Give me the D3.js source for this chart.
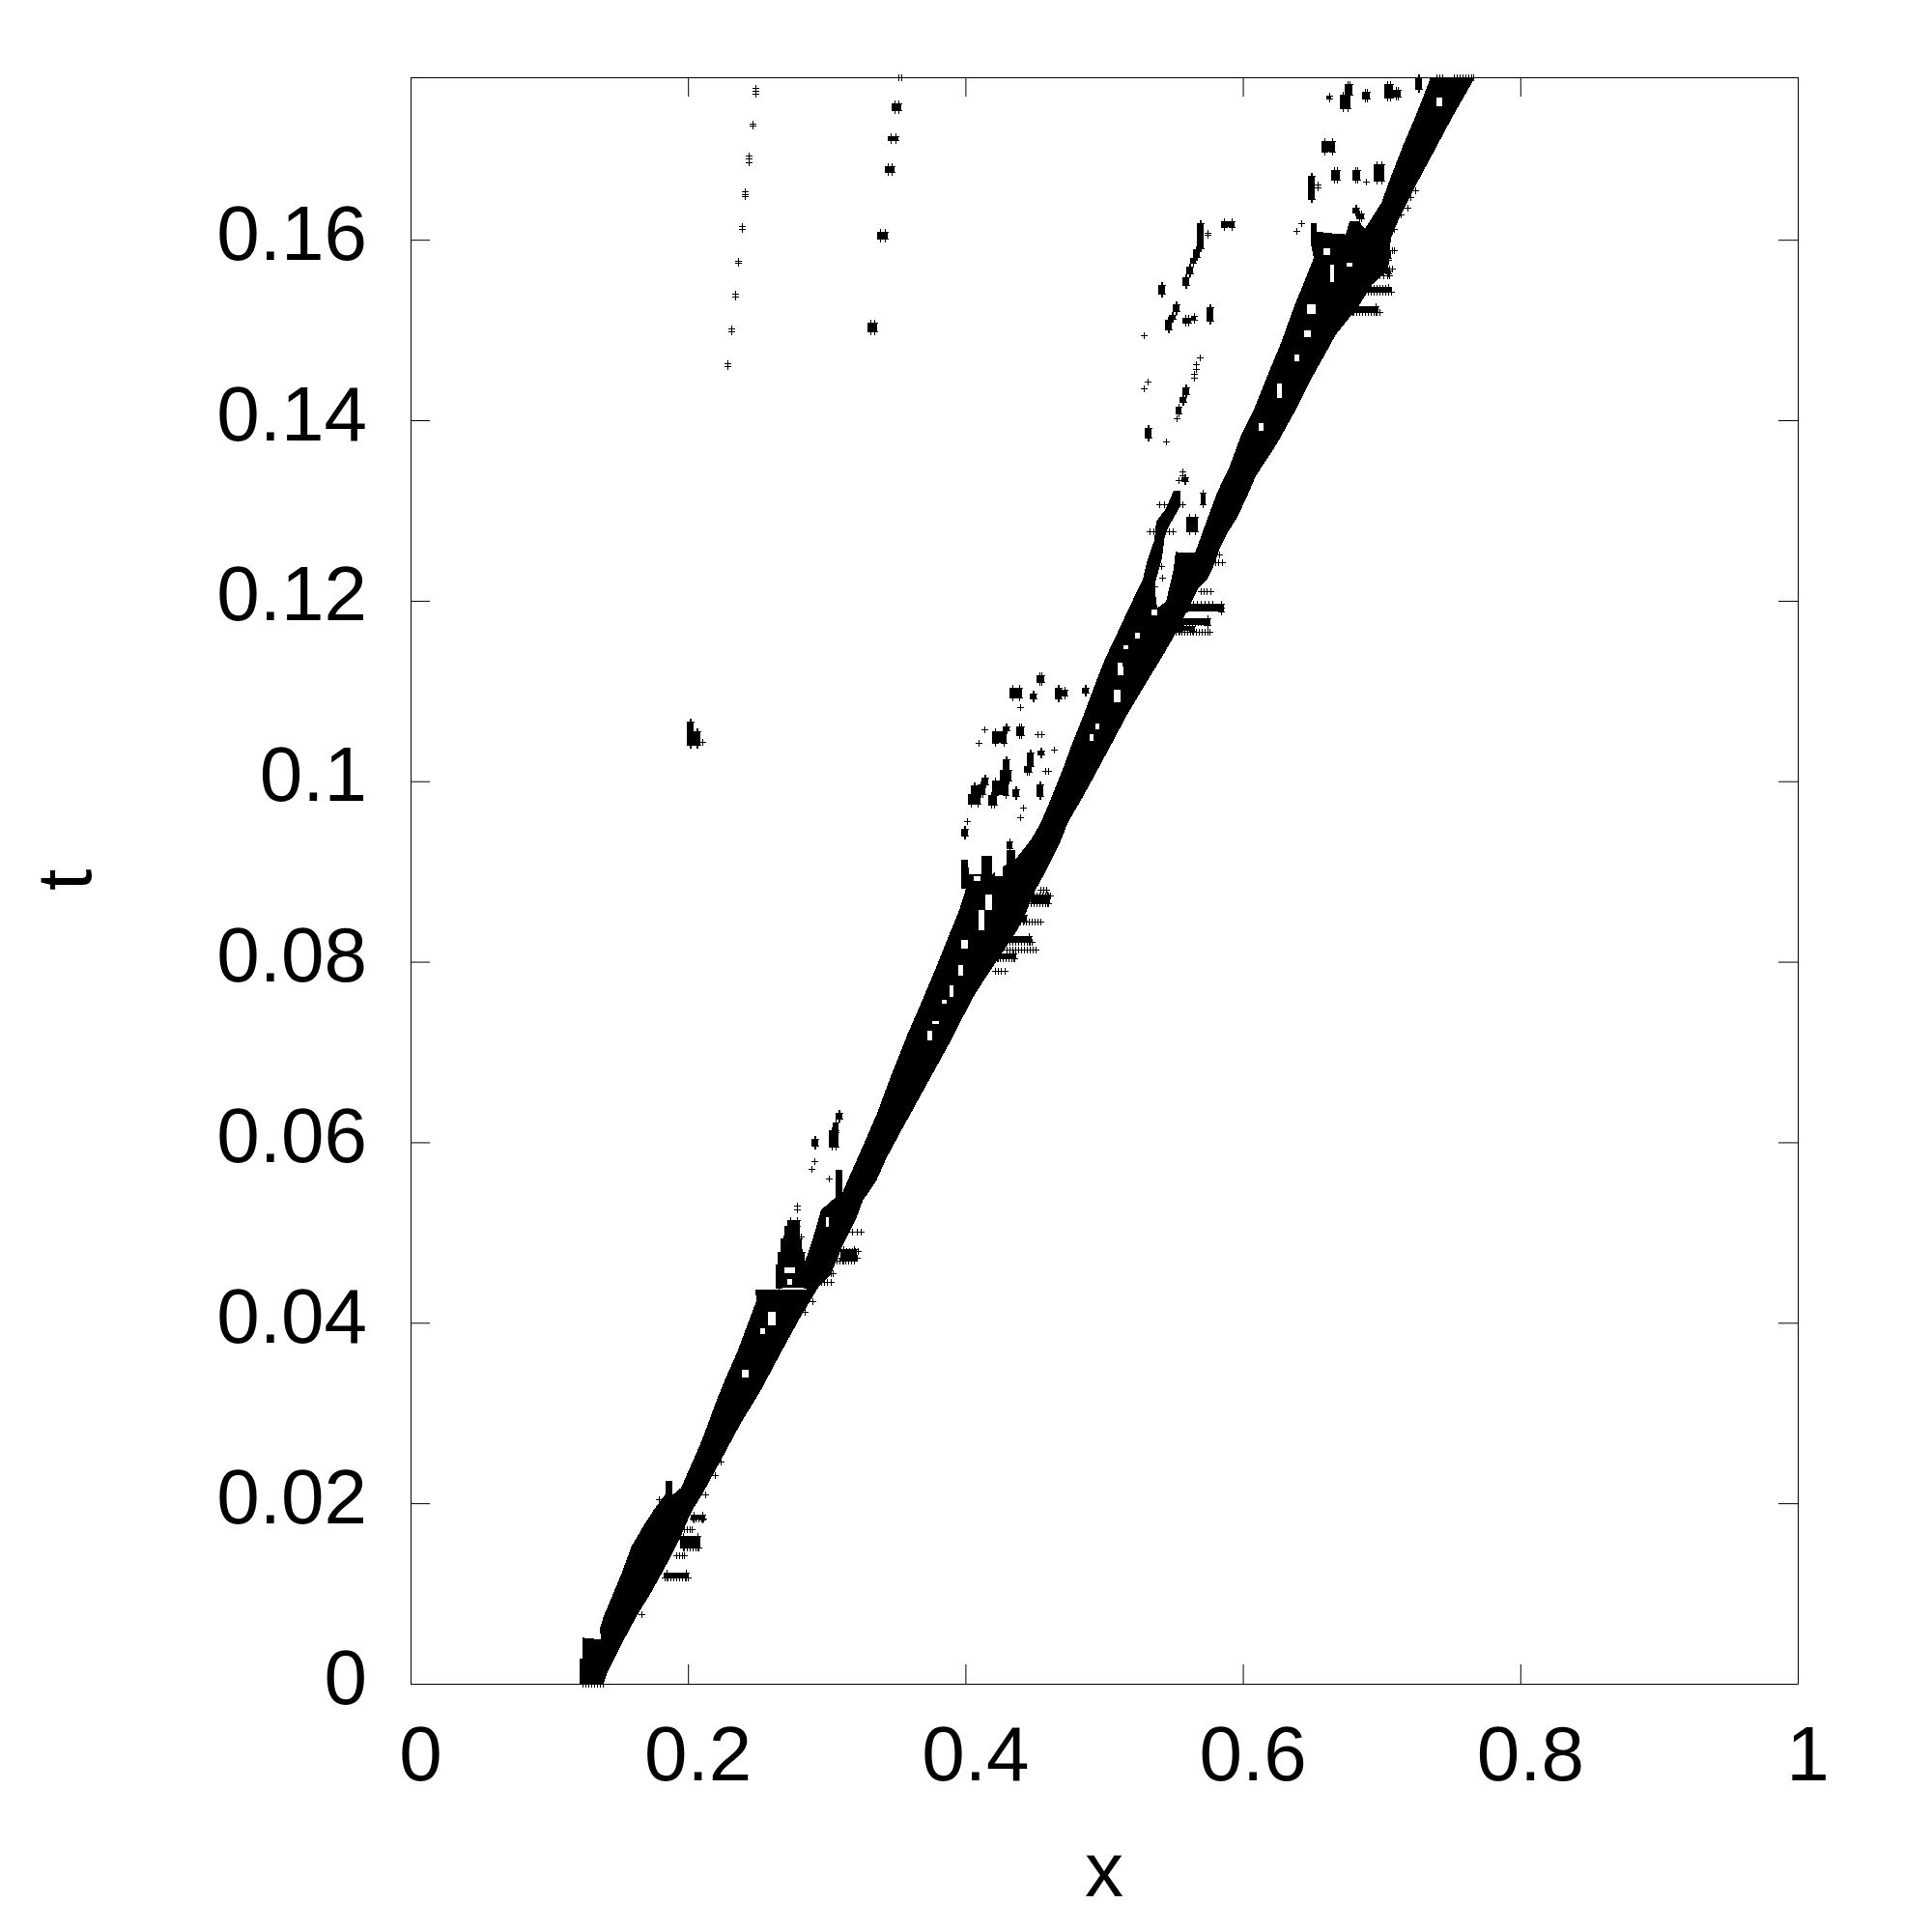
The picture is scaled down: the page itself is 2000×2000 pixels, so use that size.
<!DOCTYPE html>
<html><head><meta charset="utf-8">
<script src="https://cdn.jsdelivr.net/npm/d3@7"></script>
<style>html,body{margin:0;background:#fff}svg{display:block}</style>
</head><body><svg id="c" width="2000" height="2000"></svg>
<script>
const xTicks=[0,0.2,0.4,0.6,0.8,1];
const tTicks=[0,0.02,0.04,0.06,0.08,0.1,0.12,0.14,0.16];
const xLabel="x", tLabel="t";

// dense band outline, as read: [x,t]
const bandLeftEdge=[[.1219,0],[.1219,.0028],[.1240,.0028],[.1240,.0051],[.1372,.0049],[.1365,.0062],[.1393,.0075],[.1469,.0103],[.1518,.0121],[.1595,.0153],[.1692,.0178],[.1755,.0193],[.1838,.0210],[.1838,.0225],[.1887,.0225],[.1887,.0209],[.1950,.0217],[.2033,.0246],[.2103,.0271],[.2214,.0317],[.2284,.0343],[.2354,.0367],[.2451,.0407],[.2493,.0424],[.2486,.0437],[.2855,.0437],[.2841,.0467],[.2890,.0488],[.2960,.0525],[.3064,.0539],[.3064,.0569],[.3113,.0569],[.3113,.0544],[.3189,.0571],[.3259,.0595],[.3363,.0632],[.3447,.0667],[.3586,.0721],[.3677,.0753],[.3795,.0796],[.3886,.0831],[.3955,.0857],[.4004,.0881],[.3969,.0881],[.3969,.0913],[.4018,.0913],[.4025,.0897],[.4116,.0897],[.4116,.0917],[.4192,.0917],[.4192,.0897],[.4297,.0908],[.4297,.0924],[.4359,.0924],[.4359,.0913],[.4471,.0935],[.4540,.0953],[.4610,.0978],[.4701,.1013],[.4770,.1042],[.4861,.1077],[.4958,.1117],[.5014,.1138],[.5070,.1156],[.5167,.1188],[.5279,.1224],[.5306,.1242],[.5362,.1267],[.5376,.1288],[.5446,.1302],[.5501,.1322],[.5550,.1322],[.5550,.1305],[.5487,.1288],[.5439,.1274],[.5418,.1248],[.5362,.1216],[.5383,.1192],[.5446,.1199],[.5501,.1235],[.5515,.1254],[.5655,.1253],[.5696,.1270],[.5745,.1291],[.5815,.1320],[.5905,.1349],[.5989,.1384],[.6072,.1409],[.6184,.1452],[.6281,.1488],[.6372,.1527],[.6442,.1553],[.6511,.1580],[.6490,.1595],[.6490,.1618],[.6532,.1618],[.6532,.1609],[.6650,.1607],[.6741,.1606],[.6769,.1620],[.6838,.1620],[.6880,.1612],[.6999,.1641],[.7068,.1670],[.7159,.1706],[.7256,.1741],[.7347,.1777],[.7347,.1780]];
const bandRightEdge=[[.7674,.1780],[.7507,.1735],[.7368,.1695],[.7228,.1655],[.7117,.1620],[.7068,.1602],[.7047,.1566],[.6929,.1550],[.6838,.1527],[.6671,.1495],[.6581,.1470],[.6490,.1445],[.6372,.1409],[.6246,.1374],[.6093,.1338],[.6024,.1313],[.5954,.1291],[.5884,.1274],[.5836,.1259],[.5780,.1235],[.5745,.1224],[.5675,.1213],[.5571,.1181],[.5487,.1156],[.5418,.1138],[.5292,.1106],[.5167,.1074],[.5028,.1034],[.4930,.1006],[.4840,.0981],[.4735,.0953],[.4680,.0931],[.4610,.0910],[.4561,.0895],[.4492,.0876],[.4436,.0854],[.4366,.0833],[.4248,.0806],[.4123,.0777],[.4053,.0760],[.3886,.0710],[.3538,.0613],[.3426,.0581],[.3357,.0557],[.3259,.0535],[.3217,.0517],[.3113,.0485],[.3029,.0453],[.2939,.0439],[.2799,.0403],[.2681,.0370],[.2521,.0324],[.2382,.0289],[.2242,.0249],[.2103,.0210],[.2026,.0191],[.1950,.0164],[.1845,.0132],[.1741,.0103],[.1623,.0073],[.1518,.0043],[.1414,.0011],[.1393,0]];

// empty pockets inside the band and clumps: [x0,x1,t0,t1]
const gapBoxes=[[.7396,.7437,.1748,.1757],[.6630,.6657,.1553,.1572],[.6748,.6790,.1570,.1575],[.6581,.6630,.1583,.1591],[.6462,.6525,.1518,.1529],[.6442,.6490,.1492,.1500],[.6372,.6407,.1465,.1473],[.6246,.6281,.1425,.1441],[.6114,.6149,.1388,.1397],[.5341,.5383,.1184,.1190],[.5223,.5258,.1158,.1165],[.5139,.5174,.1146,.1151],[.5097,.5132,.1124,.1131],[.4896,.4923,.1045,.1052],[.4937,.4965,.1057,.1064],[.5070,.5118,.1088,.1101],[.5097,.5139,.1117,.1127],[.3886,.3914,.0761,.0774],[.3830,.3865,.0753,.0758],[.3726,.3760,.0713,.0724],[.3760,.3809,.0731,.0734],[.4143,.4192,.0857,.0874],[.4095,.4136,.0835,.0857],[.3969,.4018,.0815,.0824],[.3948,.3983,.0785,.0796],[.4060,.4110,.0889,.0895],[.4213,.4269,.0895,.0906],[.2389,.2437,.0339,.0348],[.2521,.2556,.0387,.0394],[.2577,.2632,.0397,.0412],[.2994,.3015,.0506,.0517],[.2695,.2772,.0455,.0461],[.2716,.2751,.0442,.0449]];

// tight clumps of points: [x0,x1,t0,t1]
const clusterBoxes=[[.7242,.7291,.1767,.1780],[.6734,.6790,.1761,.1772],[.6699,.6776,.1746,.1761],[.6859,.6915,.1756,.1764],[.7019,.7082,.1757,.1772],[.7082,.7138,.1759,.1766],[.6602,.6637,.1756,.1760],[.6567,.6664,.1698,.1709],[.6636,.6699,.1667,.1677],[.6790,.6845,.1667,.1677],[.6943,.7019,.1666,.1684],[.6469,.6518,.1645,.1671],[.6790,.6838,.1630,.1636],[.6818,.6873,.1624,.1629],[.5669,.5717,.1591,.1618],[.5843,.5940,.1614,.1620],[.5641,.5689,.1581,.1589],[.5620,.5662,.1574,.1580],[.5592,.5641,.1563,.1570],[.5564,.5613,.1550,.1558],[.5390,.5439,.1540,.1550],[.5494,.5543,.1521,.1529],[.5467,.5515,.1512,.1517],[.5439,.5487,.1501,.1511],[.5564,.5627,.1508,.1513],[.5738,.5787,.1510,.1525],[.5627,.5662,.1511,.1516],[.5564,.5613,.1429,.1436],[.5543,.5592,.1420,.1426],[.5515,.5557,.1408,.1415],[.5292,.5341,.1381,.1391],
[.5592,.5675,.1277,.1293],[.5696,.5731,.1307,.1320],[.5557,.5606,.1333,.1337],
[.4318,.4408,.1093,.1104],[.4513,.4568,.1110,.1117],[.4464,.4513,.1092,.1097],[.4645,.4694,.1092,.1104],[.4694,.4735,.1095,.1101],[.4840,.4889,.1098,.1104],[.4269,.4318,.1056,.1061],[.4192,.4297,.1042,.1055],[.4366,.4422,.1051,.1061],[.4520,.4568,.1030,.1034],[.4443,.4492,.1017,.1032],[.4422,.4478,.1010,.1017],[.4269,.4318,.1013,.1024],[.4248,.4331,.1001,.1013],[.4192,.4311,.0985,.1001],[.4164,.4227,.0974,.0985],[.4338,.4387,.0984,.0991],[.4513,.4561,.0984,.0997],[.4116,.4164,.0996,.1004],[.4088,.4143,.0986,.0996],[.4039,.4088,.0985,.0995],[.4018,.4109,.0975,.0986],[.3969,.4018,.0940,.0947],[.4297,.4338,.0926,.0933],
[.3064,.3113,.0626,.0633],[.3043,.3085,.0611,.0622],[.3015,.3085,.0595,.0613],[.2890,.2939,.0596,.0604],
[.2716,.2806,.0507,.0514],[.2695,.2806,.0493,.0507],[.2667,.2820,.0478,.0493],[.2646,.2841,.0464,.0478],[.2632,.2876,.0439,.0464],
[.1992,.2040,.1040,.1066],[.2040,.2089,.1040,.1055],
[.3468,.3538,.1744,.1751],[.3440,.3517,.1710,.1715],[.3419,.3489,.1675,.1681],[.3363,.3440,.1601,.1609],[.3294,.3363,.1499,.1508],
[.1943,.2089,.0151,.0164],[.1825,.2006,.0118,.0123],[.2019,.2124,.0182,.0187],[.3099,.3217,.0469,.0482],
[.4269,.4478,.0822,.0828],[.4471,.4610,.0865,.0874],[.4366,.4443,.0846,.0852],[.4213,.4366,.0804,.0809],
[.5522,.5766,.1173,.1181],[.5557,.5864,.1188,.1197],[.5522,.5655,.1167,.1172],
[.6838,.7068,.1542,.1548],[.6769,.6978,.1520,.1526],[.6859,.7068,.1580,.1588],[.6908,.7068,.1563,.1566]];

// rows of points sticking out of the band
const rowT=[0,.0118,.0151,.0161,.0183,.0171,.0142,.0445,.0455,.0469,.0501,.0472,.0480,.0814,.0822,.0804,.0790,.0845,.0865,.0873,.0880,.1166,.1176,.1192,.1197,.1211,.1243,.1251,.1520,.1542,.1547,.1561,.1568,.1578,.1588,.1780,.1780,.1277,.1307];
const rowX=[[.1240,.1260,.1281,.1302,.1323,.1344,.1365,.1385],[.1831,.1852,.1873,.1894,.1915,.1936,.1957,.1978,.1999],[.1971,.1992,.2013,.2034,.2055,.2075],[.1950,.1971,.1992,.2013,.2034,.2054],[.2034,.2055,.2075,.2096,.2110],[.1971,.1992,.2013,.2027],[.1915,.1936,.1957,.1971],[.2960,.2981,.3001,.3029],[.2981,.3001,.3029,.3043],[.3050,.3071,.3092,.3113,.3134,.3155,.3176,.3197],[.3148,.3183,.3217,.3245],[.3099,.3120,.3141,.3162,.3183,.3204,.3217],[.3120,.3141,.3162,.3183,.3204,.3224],[.4297,.4318,.4339,.4360,.4381,.4401,.4422,.4443,.4464,.4485,.4506],[.4297,.4318,.4339,.4360,.4381,.4401,.4422,.4443,.4464,.4478],[.4227,.4248,.4269,.4290,.4311,.4332,.4353],[.4213,.4234,.4255,.4283],[.4373,.4394,.4415,.4436,.4457,.4478,.4499,.4520,.4540],[.4471,.4492,.4513,.4534,.4555,.4576,.4596],[.4443,.4471,.4492,.4513,.4534,.4555,.4576,.4596,.4610],[.4540,.4561,.4582],[.5515,.5536,.5557,.5578,.5599,.5620,.5641,.5662,.5683,.5704,.5725,.5746,.5759],[.5571,.5592,.5613,.5634,.5655,.5676,.5697,.5718,.5739],[.5571,.5599,.5627,.5655,.5683,.5711,.5739,.5767,.5795,.5822,.5843],[.5641,.5669,.5697,.5725,.5753,.5780],[.5696,.5717,.5738,.5766],[.5780,.5801,.5822,.5850],[.5801,.5829],[.6755,.6776,.6797,.6818,.6839,.6860,.6881,.6902,.6923,.6944,.6965,.6985],[.6838,.6859,.6880,.6901,.6922,.6943,.6964,.6985,.7006,.7027,.7048,.7068],[.6859,.6880,.6901,.6922,.6943,.6964,.6985,.7006,.7027,.7048],[.6929,.6957,.6985,.7013,.7041,.7055],[.6929,.6950,.6971,.6992,.7013,.7034,.7055,.7075],[.6964,.6992,.7020,.7048],[.6964,.6992,.7020,.7048,.7075,.7089],[.7521,.7542,.7563,.7584,.7605,.7626,.7647,.7660],[.7396,.7417,.7438],[.5327,.5355,.5383,.5411,.5439,.5467,.5494],[.5397,.5432,.5467,.5501,.5536,.5564]];

// isolated points: [x,t]
const isolatedPoints=[[.1664,.0077],[.2124,.0210],[.2194,.0231],[.2235,.0246],[.2841,.0412],[.2897,.0424],[.1790,.0204],[.1685,.0166],[.1623,.0148],[.1462,.0091],[.1441,.0082],[.2911,.0579],[.2890,.0571],[.3015,.0560],[.2786,.0530],[.2786,.0526],[.2813,.0496],
[.5362,.1216],[.5418,.1226],[.5411,.1238],[.5494,.1311],[.5536,.1334],[.5564,.1343],[.5564,.1339],
[.7242,.1655],[.7207,.1647],[.7187,.1636],[.7138,.1628],[.7089,.1612],[.6421,.1618],[.6386,.1610],[.5285,.1494],[.5689,.1470],[.5661,.1462],[.5661,.1457],[.5648,.1451],[.5648,.1447],[.5313,.1443],[.5285,.1435],[.5522,.1402],[.5446,.1377],[.6887,.1664],[.6539,.1661],[.6539,.1658],[.5745,.1608],[.5745,.1605],
[.4394,.1082],[.4136,.1058],[.4095,.1043],[.4520,.1052],[.4547,.1052],[.4638,.1035],[.4575,.1011],[.4596,.1011],[.4415,.0971],[.4394,.0960],[.4011,.0956],[.2103,.1044],
[.2486,.1768],[.2486,.1765],[.2486,.1762],[.2465,.1729],[.2465,.1727],[.2437,.1693],[.2437,.1690],[.2437,.1686],[.2409,.1654],[.2409,.1651],[.2409,.1648],[.2389,.1615],[.2389,.1612],[.2361,.1577],[.2361,.1574],[.2340,.1540],[.2340,.1537],[.2312,.1502],[.2312,.1499],[.2284,.1463],[.2284,.1460],[.3517,.1780],[.3538,.1780]];

const svg=d3.select("#c");
const x=d3.scaleLinear().domain([0,1]).range([425,1861]);
const y=d3.scaleLinear().domain([0,.178]).range([1743,80]);
const px=v=>Math.round(x(v))+.5, py=v=>Math.round(y(v))+.5;

const marks=svg.append("g");
const line=d3.line().x(d=>x(d[0])).y(d=>y(d[1]));
marks.append("path").attr("d",line(bandLeftEdge.concat(bandRightEdge))+"Z").attr("fill","#000").attr("shape-rendering","crispEdges");
marks.selectAll("rect.clump").data(clusterBoxes).join("rect").attr("class","clump")
  .attr("x",d=>x(d[0])).attr("width",d=>x(d[1])-x(d[0])).attr("y",d=>y(d[3])).attr("height",d=>y(d[2])-y(d[3]))
  .attr("fill","#000").attr("shape-rendering","crispEdges");
marks.selectAll("rect.gap").data(gapBoxes).join("rect").attr("class","gap")
  .attr("x",d=>x(d[0])).attr("width",d=>x(d[1])-x(d[0])).attr("y",d=>y(d[3])).attr("height",d=>y(d[2])-y(d[3]))
  .attr("fill","#fff").attr("shape-rendering","crispEdges");

const plus="M-3.5,0H3.5M0,-3.5V3.5";
const pts=[];
rowT.forEach((t,i)=>rowX[i].forEach(v=>pts.push({X:px(v),Y:py(t)})));
isolatedPoints.forEach(p=>pts.push({X:px(p[0]),Y:py(p[1])}));
clusterBoxes.forEach(b=>{
  const l=x(b[0]),r=x(b[1]),ins=Math.min(3,(r-l)/2);
  [Math.round(l+ins)+.5,Math.round(r-ins)+.5].forEach(X=>[py(b[2]),py(b[3])].forEach(Y=>pts.push({X,Y})));
});
marks.selectAll("path.pt").data(pts).join("path").attr("class","pt").attr("d",plus)
  .attr("transform",d=>`translate(${d.X},${d.Y})`).attr("fill","none").attr("stroke","#000").attr("stroke-width",1).attr("shape-rendering","crispEdges");

const fs="Liberation Sans, Arial, sans-serif";
const fmt=d=>String(d);
const axB=svg.append("g").attr("transform","translate(0,1743)").call(d3.axisBottom(x).tickValues(xTicks).tickFormat(fmt).tickSizeInner(-20).tickSizeOuter(0).tickPadding(0));
axB.selectAll("text").attr("x",10).attr("y",100).attr("dy",0).attr("text-anchor","middle");
const axL=svg.append("g").attr("transform","translate(425,0)").call(d3.axisLeft(y).tickValues(tTicks).tickFormat(fmt).tickSizeInner(-20).tickSizeOuter(0).tickPadding(0));
axL.selectAll("text").attr("x",-45).attr("y",20).attr("dy",0).attr("text-anchor","end");
svg.append("g").attr("transform","translate(0,80)").call(d3.axisTop(x).tickValues(xTicks).tickFormat("").tickSizeInner(-20).tickSizeOuter(0));
svg.append("g").attr("transform","translate(1861,0)").call(d3.axisRight(y).tickValues(tTicks).tickFormat("").tickSizeInner(-20).tickSizeOuter(0));
svg.selectAll(".domain,.tick line").attr("stroke","#000").attr("stroke-width",1);
svg.selectAll(".tick text").attr("font-family",fs).attr("font-size",80).attr("fill","#000");
svg.append("text").attr("x",1143).attr("y",1963).attr("text-anchor","middle").attr("font-family",fs).attr("font-size",80).text(xLabel);
svg.append("text").attr("transform","translate(94,911) rotate(-90)").attr("text-anchor","middle").attr("font-family",fs).attr("font-size",80).text(tLabel);
</script></body></html>
